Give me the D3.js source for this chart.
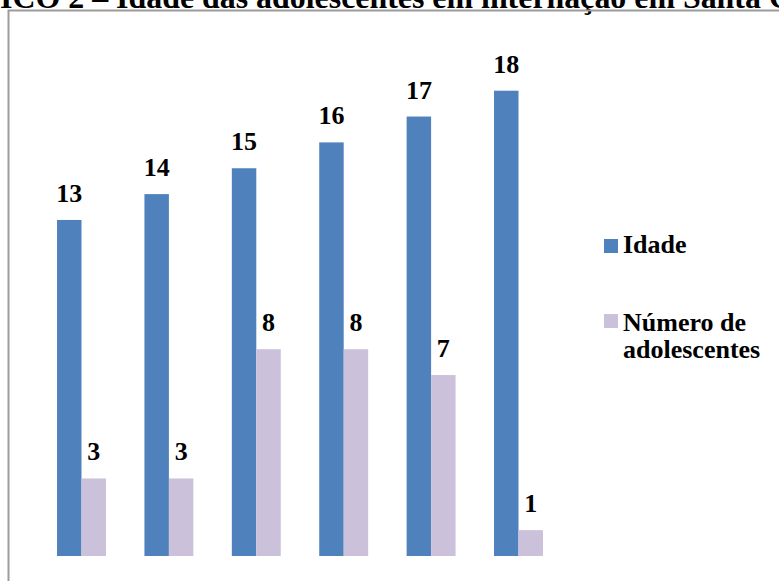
<!DOCTYPE html>
<html>
<head>
<meta charset="utf-8">
<script src="https://cdn.jsdelivr.net/npm/d3@7"></script>
<style>
  html, body { margin: 0; padding: 0; background: #fff; overflow: hidden; }
  svg { display: block; }
</style>
</head>
<body>
<svg id="chart" width="779" height="581"></svg>
<script>
// Age groups (categories) and the two series plotted for each
const categories = ["13", "14", "15", "16", "17", "18"];
const idade = [13, 14, 15, 16, 17, 18];
const numeroAdolescentes = [3, 3, 8, 8, 7, 1];
const seriesNames = ["Idade", "Número de adolescentes"];
const titleText = "GRÁFICO 2 – Idade das adolescentes em internação em Santa Catarina";

const colors = ["#4F81BD", "#CCC1DA"];
const serifFont = "'Liberation Serif', 'Times New Roman', serif";

const svg = d3.select("#chart");

// Caption above the chart frame
const title = svg.append("text")
  .attr("y", 8)
  .attr("font-family", serifFont)
  .attr("font-weight", "bold")
  .attr("font-size", 31.9)
  .attr("fill", "#000");
const lead = title.append("tspan").text("GRÁF");
title.append("tspan").text(titleText.slice(4));
const leadW = lead.node().getComputedTextLength();
title.attr("x", -leadW);

// Chart frame
svg.append("rect")
  .attr("x", 8.5).attr("y", 10.5)
  .attr("width", 900).attr("height", 700)
  .attr("fill", "none")
  .attr("stroke", "#9c9c9c")
  .attr("stroke-width", 2);

// Scales
const x0 = d3.scaleBand()
  .domain(categories)
  .range([37.8, 562.2])
  .paddingInner(0.44)
  .paddingOuter(0.22);

const x1 = d3.scaleBand()
  .domain([0, 1])
  .range([0, x0.bandwidth()]);

const y = d3.scaleLinear()
  .domain([0, 20])
  .range([556, 39]);

const rows = categories.map((c, i) => ({
  cat: c,
  values: [idade[i], numeroAdolescentes[i]]
}));

const groups = svg.append("g").selectAll("g")
  .data(rows)
  .join("g")
  .attr("transform", d => `translate(${x0(d.cat)},0)`);

const cells = groups.selectAll("g")
  .data(d => d.values.map((v, s) => ({ v, s })))
  .join("g");

cells.append("rect")
  .attr("x", d => x1(d.s))
  .attr("y", d => y(d.v))
  .attr("width", x1.bandwidth())
  .attr("height", d => y(0) - y(d.v))
  .attr("fill", d => colors[d.s]);

// Value labels above each bar
cells.append("text")
  .attr("x", d => x1(d.s) + x1.bandwidth() / 2)
  .attr("y", d => y(d.v) - 18)
  .attr("text-anchor", "middle")
  .attr("font-family", serifFont)
  .attr("font-weight", "bold")
  .attr("font-size", 26)
  .attr("fill", "#000")
  .text(d => d.v);

// Legend
const legendItems = [
  { lines: ["Idade"], y: 253 },
  { lines: ["Número de", "adolescentes"], y: 328 }
];

const legend = svg.append("g");
legendItems.forEach((item, i) => {
  legend.append("rect")
    .attr("x", 604)
    .attr("y", item.y - 14)
    .attr("width", 14)
    .attr("height", 14)
    .attr("fill", colors[i]);
  const t = legend.append("text")
    .attr("x", 623)
    .attr("y", item.y + (i === 1 ? 3 : 0))
    .attr("font-family", serifFont)
    .attr("font-weight", "bold")
    .attr("font-size", 26)
    .attr("fill", "#000");
  item.lines.forEach((ln, k) => {
    t.append("tspan")
      .attr("x", 623)
      .attr("dy", k === 0 ? 0 : 27)
      .text(ln);
  });
});
</script>
</body>
</html>
